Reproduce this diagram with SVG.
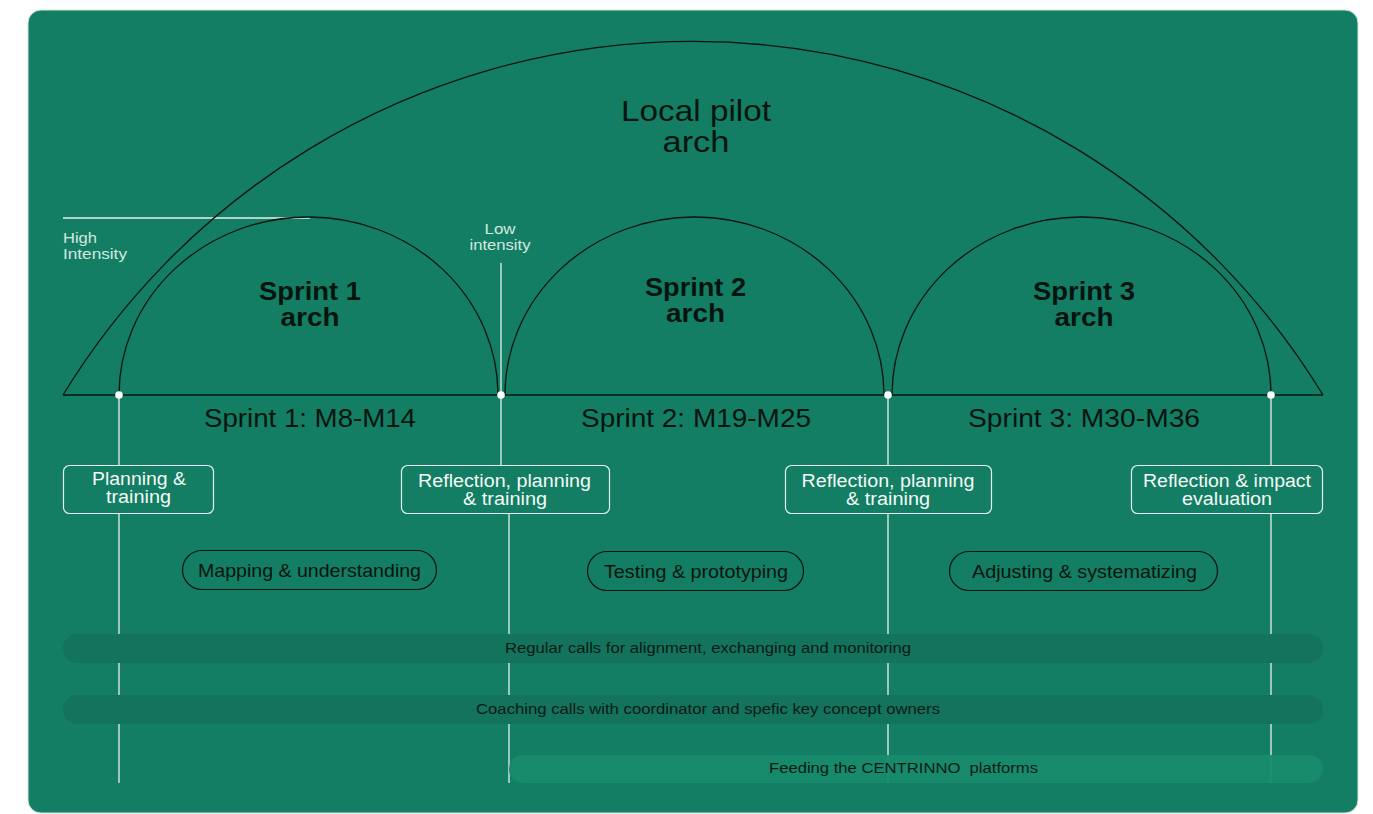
<svg xmlns="http://www.w3.org/2000/svg" width="1373" height="814" viewBox="0 0 1373 814">
  <style>
    .sans { font-family: "Liberation Sans", Arial, sans-serif; }
    .arch { fill: none; stroke: #06140f; stroke-width: 1.3; }
    .guide { stroke: #e6f2ed; stroke-width: 1.3; fill: none; }
    .milestone rect { fill: none; stroke: #e6f2ed; stroke-width: 1.2; }
    .milestone text { fill: #f4faf7; font-size: 18px; text-anchor: middle; }
    .phase rect { fill: none; stroke: #06140f; stroke-width: 1.2; }
    .phase text { fill: #06140f; font-size: 19px; text-anchor: middle; }
    .period { fill: #06140f; font-size: 25px; text-anchor: middle; }
    .title { fill: #06140f; font-size: 25px; font-weight: bold; text-anchor: middle; }
    .track text { fill: #0a1a14; font-size: 15.5px; text-anchor: middle; white-space: pre; }
    .intensity { fill: #d3e8e0; font-size: 15px; }
    .dot { fill: #ffffff; }
  </style>

  <!-- card background -->
  <rect x="28" y="10" width="1330" height="803" rx="13" fill="#137e63" stroke="#cfe4dc" stroke-width="1"/>

  <!-- timeline guides -->
  <g id="guides">
    <line class="guide" x1="63" y1="218" x2="310" y2="218" stroke="#c6ddd5"/>
    <line class="guide" x1="119" y1="395" x2="119" y2="465"/>
    <line class="guide" x1="119" y1="514" x2="119" y2="783"/>
    <line class="guide" x1="501" y1="263" x2="501" y2="466"/>
    <line class="guide" x1="509" y1="514" x2="509" y2="783"/>
    <line class="guide" x1="888" y1="395" x2="888" y2="466"/>
    <line class="guide" x1="888" y1="514" x2="888" y2="783"/>
    <line class="guide" x1="1271" y1="395" x2="1271" y2="466"/>
    <line class="guide" x1="1271" y1="514" x2="1271" y2="783"/>
  </g>

  <!-- arches and baseline -->
  <g id="connectors">
    <path class="arch" d="M63,395 A738,738 0 0,1 1323,395"/>
    <path class="arch" d="M119,395 A189.5,178 0 0,1 498,395"/>
    <path class="arch" d="M505,395 A189.5,178 0 0,1 884,395"/>
    <path class="arch" d="M892,395 A189.5,178 0 0,1 1271,395"/>
    <line class="arch" x1="63" y1="395" x2="1323" y2="395"/>
  </g>

  <g id="dots">
    <circle class="dot" cx="119" cy="395" r="3.8"/>
    <circle class="dot" cx="501" cy="395" r="3.8"/>
    <circle class="dot" cx="888" cy="395" r="3.8"/>
    <circle class="dot" cx="1271" cy="395" r="3.8"/>
  </g>

  <g id="local-pilot-arch" class="sans">
    <text x="696" y="121" fill="#06140f" font-size="30" text-anchor="middle" textLength="150" lengthAdjust="spacingAndGlyphs">Local pilot</text>
    <text x="696" y="152" fill="#06140f" font-size="30" text-anchor="middle" textLength="67" lengthAdjust="spacingAndGlyphs">arch</text>
  </g>

  <g id="intensity-labels" class="sans">
    <text class="intensity" x="63" y="243" textLength="34" lengthAdjust="spacingAndGlyphs">High</text>
    <text class="intensity" x="63" y="259" textLength="64" lengthAdjust="spacingAndGlyphs">Intensity</text>
    <text class="intensity" x="500" y="234" text-anchor="middle" textLength="31" lengthAdjust="spacingAndGlyphs">Low</text>
    <text class="intensity" x="500" y="250" text-anchor="middle" textLength="61" lengthAdjust="spacingAndGlyphs">intensity</text>
  </g>

  <g id="sprint-1-arch" class="sans">
    <text class="title" x="310" y="300" textLength="102" lengthAdjust="spacingAndGlyphs">Sprint 1</text>
    <text class="title" x="310" y="326" textLength="59" lengthAdjust="spacingAndGlyphs">arch</text>
    <text class="period" x="310" y="427" textLength="212" lengthAdjust="spacingAndGlyphs">Sprint 1: M8-M14</text>
  </g>
  <g id="sprint-2-arch" class="sans">
    <text class="title" x="695.5" y="296" textLength="101" lengthAdjust="spacingAndGlyphs">Sprint 2</text>
    <text class="title" x="695.5" y="322" textLength="59" lengthAdjust="spacingAndGlyphs">arch</text>
    <text class="period" x="696" y="427" textLength="230" lengthAdjust="spacingAndGlyphs">Sprint 2: M19-M25</text>
  </g>
  <g id="sprint-3-arch" class="sans">
    <text class="title" x="1084" y="300" textLength="102" lengthAdjust="spacingAndGlyphs">Sprint 3</text>
    <text class="title" x="1084" y="326" textLength="59" lengthAdjust="spacingAndGlyphs">arch</text>
    <text class="period" x="1084" y="427" textLength="232" lengthAdjust="spacingAndGlyphs">Sprint 3: M30-M36</text>
  </g>

  <!-- milestone boxes -->
  <g id="milestone-1" class="milestone sans">
    <rect x="63.5" y="465.5" width="150" height="48" rx="6"/>
    <text x="139" y="485" textLength="94" lengthAdjust="spacingAndGlyphs">Planning &amp;</text>
    <text x="138.5" y="503" textLength="65" lengthAdjust="spacingAndGlyphs">training</text>
  </g>
  <g id="milestone-2" class="milestone sans">
    <rect x="401.5" y="465.5" width="208" height="48" rx="6"/>
    <text x="504.5" y="487" textLength="173" lengthAdjust="spacingAndGlyphs">Reflection, planning</text>
    <text x="505" y="505" textLength="84" lengthAdjust="spacingAndGlyphs">&amp; training</text>
  </g>
  <g id="milestone-3" class="milestone sans">
    <rect x="785.5" y="465.5" width="206" height="48" rx="6"/>
    <text x="888" y="487" textLength="173" lengthAdjust="spacingAndGlyphs">Reflection, planning</text>
    <text x="888" y="505" textLength="84" lengthAdjust="spacingAndGlyphs">&amp; training</text>
  </g>
  <g id="milestone-4" class="milestone sans">
    <rect x="1131.5" y="465.5" width="191" height="48" rx="6"/>
    <text x="1227" y="487" textLength="168" lengthAdjust="spacingAndGlyphs">Reflection &amp; impact</text>
    <text x="1227" y="505" textLength="90" lengthAdjust="spacingAndGlyphs">evaluation</text>
  </g>

  <!-- phase pills -->
  <g id="phase-1" class="phase sans">
    <rect x="182.5" y="550.5" width="254" height="39" rx="19.5"/>
    <text x="309.5" y="577" textLength="223" lengthAdjust="spacingAndGlyphs">Mapping &amp; understanding</text>
  </g>
  <g id="phase-2" class="phase sans">
    <rect x="587.5" y="551.5" width="216" height="39" rx="19.5"/>
    <text x="696" y="578" textLength="184" lengthAdjust="spacingAndGlyphs">Testing &amp; prototyping</text>
  </g>
  <g id="phase-3" class="phase sans">
    <rect x="949.5" y="551.5" width="268" height="39" rx="19.5"/>
    <text x="1084.5" y="578" textLength="225" lengthAdjust="spacingAndGlyphs">Adjusting &amp; systematizing</text>
  </g>

  <!-- continuous activity tracks -->
  <g id="track-regular-calls" class="track sans">
    <rect x="63" y="634" width="1260" height="29" rx="14.5" fill="#13735c"/>
    <text x="708" y="653" textLength="406" lengthAdjust="spacingAndGlyphs">Regular calls for alignment, exchanging and monitoring</text>
  </g>
  <g id="track-coaching-calls" class="track sans">
    <rect x="63" y="695" width="1260" height="29" rx="14.5" fill="#13735c"/>
    <text x="708" y="714" textLength="464" lengthAdjust="spacingAndGlyphs">Coaching calls with coordinator and spefic key concept owners</text>
  </g>
  <g id="track-platforms" class="track sans">
    <rect x="509" y="755" width="814" height="28" rx="14" fill="#168b6c" fill-opacity="0.95"/>
    <text x="903.5" y="773" textLength="269" lengthAdjust="spacingAndGlyphs">Feeding the CENTRINNO  platforms</text>
  </g>
</svg>
